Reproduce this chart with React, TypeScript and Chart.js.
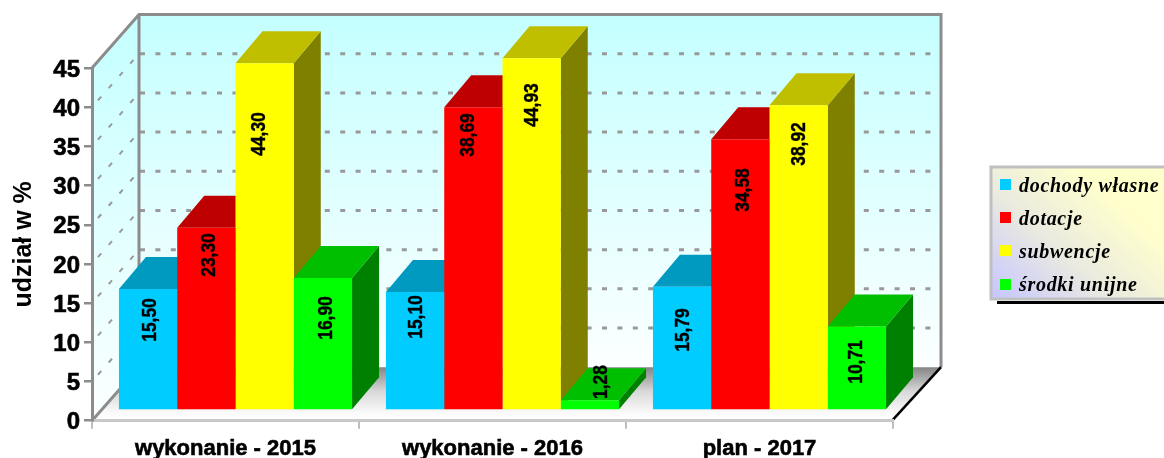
import React, { useEffect, useRef } from "react";
import { Chart, registerables } from "chart.js";

Chart.register(...registerables);

const categories = ["wykonanie - 2015", "wykonanie - 2016", "plan - 2017"];
const seriesNames = ["dochody własne", "dotacje", "subwencje", "środki unijne"];
const dochodyWlasne = [15.5, 15.1, 15.79];
const dotacje = [23.3, 38.69, 34.58];
const subwencje = [44.3, 44.93, 38.92];
const srodkiUnijne = [16.9, 1.28, 10.71];
const seriesValues = [dochodyWlasne, dotacje, subwencje, srodkiUnijne];
const valueLabels = [
  ["15,50", "15,10", "15,79"],
  ["23,30", "38,69", "34,58"],
  ["44,30", "44,93", "38,92"],
  ["16,90", "1,28", "10,71"],
];

const frontColors = ["#00CCFF", "#FF0000", "#FFFF00", "#00FF00"];
const topColors = ["#0099BF", "#BF0000", "#BFBF00", "#00BF00"];
const sideColors = ["#006680", "#800000", "#808000", "#008000"];

// label placement relative to the bar centre x / absolute centre y (hand-placed in the original)
const labelDx = [
  [1, 0, 0],
  [2, -6, 2],
  [-6, 0, 0],
  [2, 10, -2],
];
const labelCy = [
  [320, 317, 330],
  [255, 135, 190],
  [134, 105, 144],
  [318, 382, 362],
];

const W = 1164, H = 458;
const AREA = { left: 92, right: 893, top: 68, bottom: 420.7 };
const WALL = { dx: 47, dy: 53.5 };
const BAR3D = { dx: 27, dy: 32 };
const SHIFT = { x: 10, y: -10.3 };

const scene = {
  id: "scene",
  beforeDraw(chart: any) {
    const { ctx, scales } = chart;
    const y = scales.y;
    const x0 = AREA.left, x1 = AREA.right, b = AREA.bottom, t = AREA.top;
    const bx0 = x0 + WALL.dx, bx1 = x1 + 48, bb = b - WALL.dy, bt = t - WALL.dy;
    ctx.save();
    ctx.fillStyle = "#fff";
    ctx.fillRect(0, 0, W, H);
    // back wall
    const g = ctx.createLinearGradient(0, bt, 0, bb);
    g.addColorStop(0, "#C4FFFF");
    g.addColorStop(1, "#FCFFFF");
    ctx.fillStyle = g;
    ctx.fillRect(bx0, bt, bx1 - bx0, bb - bt);
    // side wall
    const g2 = ctx.createLinearGradient(0, bt, 0, b);
    g2.addColorStop(0, "#C4FFFF");
    g2.addColorStop(1, "#FCFFFF");
    ctx.fillStyle = g2;
    ctx.beginPath();
    ctx.moveTo(x0, t); ctx.lineTo(bx0, bt); ctx.lineTo(bx0, bb); ctx.lineTo(x0, b);
    ctx.closePath();
    ctx.fill();
    // floor
    const g3 = ctx.createLinearGradient(0, bb, 0, b);
    g3.addColorStop(0, "#858585");
    g3.addColorStop(0.45, "#D8D8D8");
    g3.addColorStop(0.85, "#FAFAFA");
    g3.addColorStop(1, "#FFFFFF");
    ctx.fillStyle = g3;
    ctx.beginPath();
    ctx.moveTo(x0, b); ctx.lineTo(bx0, bb); ctx.lineTo(bx1, bb); ctx.lineTo(x1, b);
    ctx.closePath();
    ctx.fill();
    // grid dashes
    for (const tk of y.ticks) {
      if (tk.value === 0 || tk.value === 45) continue;
      const py = y.getPixelForValue(tk.value);
      ctx.strokeStyle = "#999999";
      ctx.lineWidth = 3;
      ctx.setLineDash([5, 10.4]);
      ctx.beginPath();
      ctx.moveTo(bx0 + 1, py - WALL.dy);
      ctx.lineTo(bx1 - 8, py - WALL.dy);
      ctx.stroke();
      ctx.lineWidth = 2;
      ctx.setLineDash([5, 11.3]);
      ctx.lineDashOffset = -9;
      ctx.beginPath();
      ctx.moveTo(x0, py);
      ctx.lineTo(bx0, py - WALL.dy);
      ctx.stroke();
      ctx.lineDashOffset = 0;
    }
    ctx.setLineDash([]);
    // frame
    ctx.strokeStyle = "#8C8C8C";
    ctx.lineWidth = 3;
    ctx.lineJoin = "miter";
    ctx.beginPath();
    ctx.moveTo(x0, t); ctx.lineTo(bx0, bt); ctx.lineTo(bx1, bt); ctx.lineTo(bx1, bb);
    ctx.moveTo(bx0, bt); ctx.lineTo(bx0, bb); ctx.lineTo(x0, b);
    ctx.stroke();
    ctx.strokeStyle = "#000";
    ctx.lineWidth = 2.5;
    ctx.beginPath();
    ctx.moveTo(x1, b - 1); ctx.lineTo(bx1, bb);
    ctx.stroke();
    ctx.restore();
  },
  beforeDatasetsDraw(chart: any) {
    const { ctx } = chart;
    ctx.save();
    ctx.translate(SHIFT.x, SHIFT.y);
    const n = categories.length;
    for (let c = 0; c < n; c++) {
      for (let s = 0; s < seriesValues.length; s++) {
        const el = chart.getDatasetMeta(s).data[c];
        const l = el.x - el.width / 2, r = el.x + el.width / 2, top = el.y, base = el.base;
        const { dx, dy } = BAR3D;
        ctx.fillStyle = sideColors[s];
        ctx.beginPath();
        ctx.moveTo(r, top); ctx.lineTo(r + dx, top - dy); ctx.lineTo(r + dx, base - dy); ctx.lineTo(r, base);
        ctx.closePath();
        ctx.fill();
        ctx.fillStyle = topColors[s];
        ctx.beginPath();
        ctx.moveTo(l, top); ctx.lineTo(l + dx, top - dy); ctx.lineTo(r + dx, top - dy); ctx.lineTo(r, top);
        ctx.closePath();
        ctx.fill();
      }
    }
  },
  afterDatasetsDraw(chart: any) {
    const { ctx } = chart;
    ctx.restore();
    ctx.save();
    ctx.fillStyle = "#000";
    ctx.strokeStyle = "#000";
    ctx.lineWidth = 0.4;
    ctx.font = 'bold 21px "Liberation Sans"';
    ctx.textAlign = "center";
    ctx.textBaseline = "middle";
    for (let s = 0; s < seriesValues.length; s++) {
      for (let c = 0; c < categories.length; c++) {
        const el = chart.getDatasetMeta(s).data[c];
        ctx.save();
        ctx.translate(el.x + SHIFT.x + labelDx[s][c], labelCy[s][c]);
        ctx.rotate(-Math.PI / 2);
        ctx.scale(0.83, 1);
        ctx.fillText(valueLabels[s][c], 0, 1);
        ctx.strokeText(valueLabels[s][c], 0, 1);
        ctx.restore();
      }
    }
    ctx.restore();
  },
  afterDraw(chart: any) {
    const { ctx } = chart;
    ctx.save();
    // legend
    const lx = 991, ly = 167, lw = 180, lh = 132;
    ctx.fillStyle = "#000";
    ctx.fillRect(997, 301, W - 997, 3);
    const g = ctx.createLinearGradient(lx + 10, ly + lh, lx + 110, ly + 20);
    g.addColorStop(0, "#C8C8FF");
    g.addColorStop(0.5, "#EAEAE0");
    g.addColorStop(1, "#FFFFCC");
    ctx.fillStyle = g;
    ctx.fillRect(lx, ly, lw, lh);
    ctx.strokeStyle = "#C0C0C0";
    ctx.lineWidth = 3;
    ctx.strokeRect(lx, ly, lw, lh);
    const swatchY = [179, 212, 245, 279];
    const textY = [192, 225, 258, 291];
    ctx.font = 'italic bold 20px "Liberation Serif"';
    (ctx as any).letterSpacing = "0.7px";
    ctx.textBaseline = "alphabetic";
    seriesNames.forEach((name, i) => {
      ctx.fillStyle = frontColors[i];
      ctx.fillRect(1000, swatchY[i], 11, 11);
      ctx.fillStyle = "#000";
      ctx.fillText(name, 1019, textY[i]);
    });
    ctx.restore();
  },
};

export default function App() {
  const ref = useRef<HTMLCanvasElement>(null);
  useEffect(() => {
    const chart = new Chart(ref.current as HTMLCanvasElement, {
      type: "bar",
      data: {
        labels: categories,
        datasets: seriesNames.map((name, i) => ({
          label: name,
          data: seriesValues[i],
          backgroundColor: frontColors[i],
          borderWidth: 0,
          barPercentage: 1,
          categoryPercentage: 0.873,
          clip: false as any,
        })),
      },
      options: {
        responsive: false,
        animation: false,
        devicePixelRatio: 1,
        layout: { padding: { left: 0, top: AREA.top, right: W - AREA.right, bottom: 0 } },
        plugins: { legend: { display: false }, title: { display: false }, tooltip: { enabled: false } },
        scales: {
          x: {
            afterFit(s: any) { s.height = H - AREA.bottom; },
            border: { color: "#C8C8C8", width: 3 },
            grid: { drawOnChartArea: false, color: "#BEBEBE", lineWidth: 2, tickLength: 8 },
            ticks: {
              color: "#000",
              padding: 7,
              maxRotation: 0,
              font: { family: '"Liberation Sans"', weight: "bold", size: 22 },
              textStrokeColor: "#000",
              textStrokeWidth: 0.6,
            } as any,
          },
          y: {
            min: 0,
            max: 45,
            afterFit(s: any) { s.width = AREA.left; },
            border: { color: "#8C8C8C", width: 3 },
            grid: { drawOnChartArea: false, color: "#8C8C8C", lineWidth: 2.5, tickLength: 8 },
            ticks: {
              stepSize: 5,
              color: "#000",
              padding: 4,
              labelOffset: 2,
              font: { family: '"Liberation Sans"', weight: "bold", size: 24 },
              textStrokeColor: "#000",
              textStrokeWidth: 0.6,
            } as any,
            title: {
              display: true,
              text: "udział w %",
              color: "#000",
              font: { family: '"Liberation Sans"', weight: "bold", size: 25 },
              padding: { top: 9, bottom: 0 },
            },
          },
        },
      },
      plugins: [scene],
    } as any);
    return () => chart.destroy();
  }, []);
  return (
    <div style={{ position: "absolute", left: 0, top: 0, width: W, height: H, overflow: "hidden" }}>
      <canvas ref={ref} width={W} height={H} style={{ display: "block", filter: "blur(0.4px)" }} />
    </div>
  );
}
